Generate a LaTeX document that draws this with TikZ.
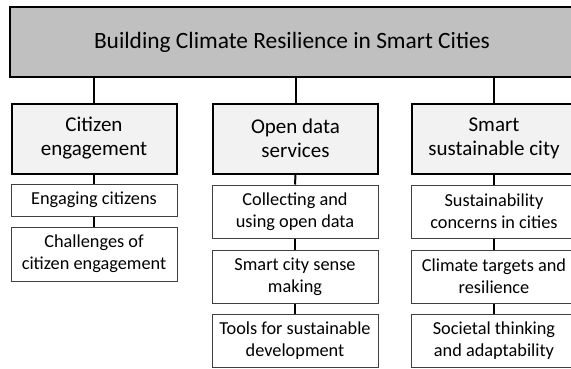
\documentclass[tikz,border=0pt]{standalone}
\usepackage{fontspec}
\setmainfont{Carlito}
\definecolor{rootgray}{HTML}{C0C0C0}
\definecolor{topicgray}{HTML}{F2F2F2}
\definecolor{itemline}{HTML}{404040}

\begin{document}
\begin{tikzpicture}[x=1pt,y=-1pt,
    rootbox/.style={draw,line width=2pt,fill=rootgray,minimum width=564pt,minimum height=70pt,inner sep=0pt,font=\fontsize{23.4}{27}\selectfont},
    topicbox/.style={draw,line width=2pt,fill=topicgray,minimum width=165pt,minimum height=70pt,inner sep=0pt,align=center,font=\fontsize{21}{24}\selectfont},
    itembox/.style={draw=itemline,line width=1pt,fill=white,minimum width=166pt,inner sep=0pt,align=center,font=\fontsize{18.3}{22}\selectfont},
    link/.style={line width=2pt}]
    \useasboundingbox (0,0) rectangle (571,368);

    \node (1) at (292,42) [rootbox]{Building Climate Resilience in Smart Cities};

    \node (2) at (94,138.5) [topicbox]{Citizen\\engagement};
    \node (3) at (295.5,138.5) [topicbox]{Open data\\services};
    \node (4) at (494,138.5) [topicbox]{Smart\\sustainable city};

    \node (5) at (94,200) [itembox,minimum height=32pt]{Engaging citizens};
    \node (6) at (94,254) [itembox,minimum height=54pt]{Challenges of\\citizen engagement};

    \node (7) at (295,211.5) [itembox,minimum height=53pt]{Collecting and\\using open data};
    \node (8) at (295,276.5) [itembox,minimum height=53pt]{Smart city sense\\making};
    \node (9) at (295,340.5) [itembox,minimum height=53pt]{Tools for sustainable\\development};

    \node (10) at (494,211.5) [itembox,minimum height=53pt]{Sustainability\\concerns in cities};
    \node (11) at (494,276.5) [itembox,minimum height=53pt]{Climate targets and\\resilience};
    \node (12) at (494,340.5) [itembox,minimum height=53pt]{Societal thinking\\and adaptability};

    \draw[link] (2.north) -- (2.north |- 1.south);
    \draw[link] (3.north) -- (3.north |- 1.south);
    \draw[link] (4.north) -- (4.north |- 1.south);

    \draw[link] (2.south) -- (5.north);
    \draw[link] (5.south) -- (6.north);

    \draw[link] (3.south) -- (7.north);
    \draw[link] (7.south) -- (8.north);
    \draw[link] (8.south) -- (9.north);

    \draw[link] (4.south) -- (10.north);
    \draw[link] (10.south) -- (11.north);
    \draw[link] (11.south) -- (12.north);

  \end{tikzpicture}
\end{document}
